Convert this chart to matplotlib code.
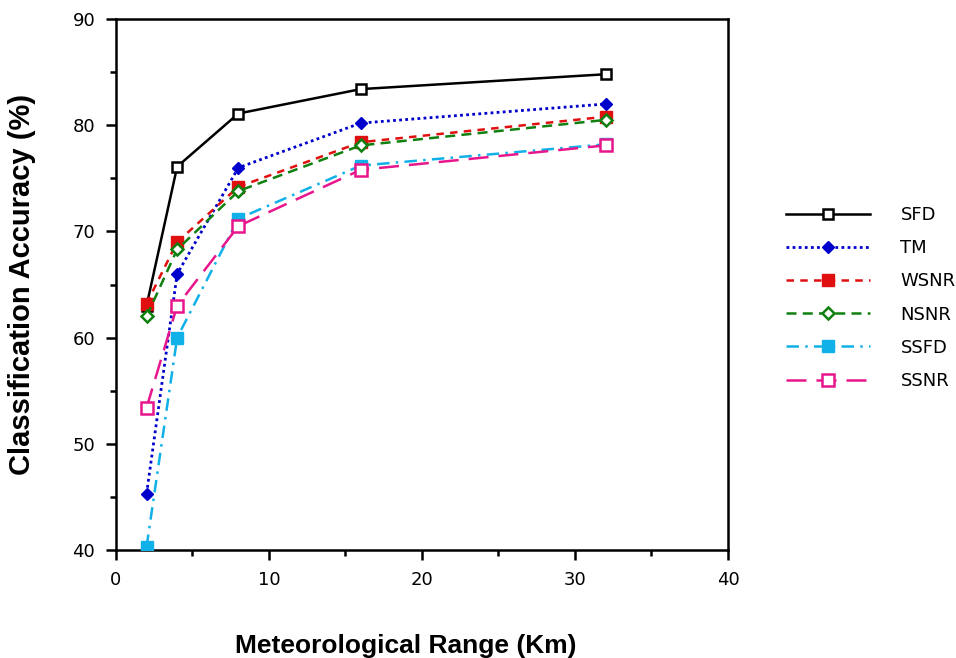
import matplotlib
matplotlib.use("Agg")
import matplotlib.pyplot as plt
from matplotlib.ticker import MultipleLocator

x = [2, 4, 8, 16, 32]
series_names = ["SFD", "TM", "WSNR", "NSNR", "SSFD", "SSNR"]
sfd = [63.0, 76.1, 81.1, 83.4, 84.8]
tm = [45.3, 66.0, 76.0, 80.2, 82.0]
wsnr = [63.2, 69.0, 74.2, 78.4, 80.8]
nsnr = [62.0, 68.3, 73.8, 78.1, 80.5]
ssfd = [40.3, 60.0, 71.2, 76.2, 78.2]
ssnr = [53.4, 63.0, 70.5, 75.8, 78.1]

fig = plt.figure(figsize=(9.56, 6.58), dpi=100)
ax = fig.add_axes([0.1213, 0.1641, 0.6402, 0.807])

ax.plot(x, sfd, color="black", lw=1.8, ls="-", marker="s", ms=7, mfc="white", mec="black", mew=1.8, label=series_names[0], zorder=3)
ax.plot(x, tm, color="#0000cc", lw=2, ls=(0, (1, 1.2)), marker="D", ms=6.5, mfc="#0000cc", mec="#0000cc", label=series_names[1], zorder=4)
ax.plot(x, wsnr, color="#e01010", lw=1.8, ls=(0, (3, 2.5)), marker="s", ms=8, mfc="#e01010", mec="#e01010", label=series_names[2], zorder=5)
ax.plot(x, nsnr, color="#108010", lw=1.8, ls=(0, (4, 2.5)), marker="D", ms=6, mfc="white", mec="#108010", mew=1.8, label=series_names[3], zorder=6)
ax.plot(x, ssfd, color="#10b0e8", lw=1.8, ls=(0, (5, 2.5, 1, 2.5)), marker="s", ms=8, mfc="#10b0e8", mec="#10b0e8", label=series_names[4], zorder=5)
ax.plot(x, ssnr, color="#e8168c", lw=1.8, ls=(0, (8, 4)), marker="s", ms=8, mfc="white", mec="#e8168c", mew=1.8, label=series_names[5], zorder=6)

ax.set_xlim(0, 40)
ax.set_ylim(40, 90)
ax.xaxis.set_major_locator(MultipleLocator(10))
ax.xaxis.set_minor_locator(MultipleLocator(5))
ax.yaxis.set_major_locator(MultipleLocator(10))
ax.yaxis.set_minor_locator(MultipleLocator(5))
ax.tick_params(which="major", direction="out", length=7, width=1.8, labelsize=13, pad=8)
ax.tick_params(which="minor", direction="out", length=4, width=1.8)
ax.tick_params(top=False, right=False)
for s in ax.spines.values():
    s.set_linewidth(1.8)

ax.set_xlabel("Meteorological Range (Km)", fontsize=19, fontweight="bold", family="Liberation Sans")
ax.xaxis.set_label_coords(0.474, -0.158)
ax.set_ylabel("Classification Accuracy (%)", fontsize=21, fontweight="bold", family="Liberation Sans", labelpad=26)

leg = fig.legend(loc="upper left", bbox_to_anchor=(786 / 956, 1 - 206 / 658), bbox_transform=fig.transFigure,
                 frameon=False, fontsize=13, borderpad=0, borderaxespad=0,
                 handlelength=4.67, labelspacing=0.84, handletextpad=1.67)

fig.savefig("out.png", dpi=100)
